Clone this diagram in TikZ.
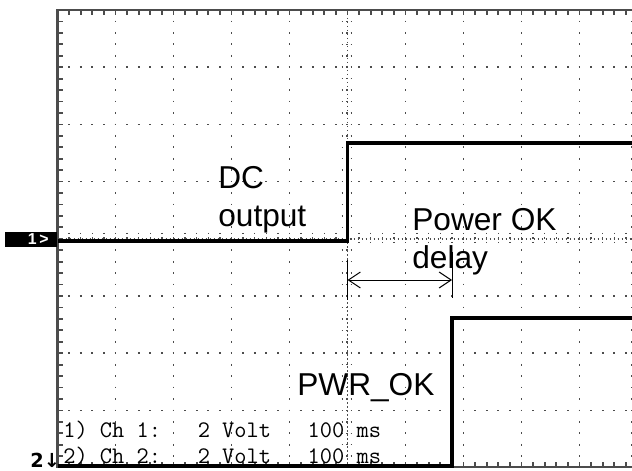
\documentclass[tikz,border=0pt]{standalone}
\usepackage{fontspec}
\setsansfont{Liberation Sans}
\newfontfamily\arrowfont{DejaVu Sans}
\usetikzlibrary{arrows.meta}

\begin{document}
\begin{tikzpicture}[x=0.2mm,y=-0.2mm,>={Straight Barb[length=2.4mm,width=3.2mm]},
 trace/.style={line width=0.7mm},
 scopeframe/.style={black!70,line width=0.45mm},
 gridv/.style={black!70,line width=0.35mm,dash pattern=on 0.35mm off 1.938mm,dash phase=0.175mm},
 gridh/.style={black!70,line width=0.35mm,dash pattern=on 0.35mm off 1.97mm,dash phase=0.175mm},
 fine/.style={black!70,line width=0.3mm,dash pattern=on 0.3mm off 0.5mm},
 crossdot/.style={black!70,line width=0.3mm,dash pattern=on 0.3mm off 0.6mm},
 tick/.style={black!70,line width=0.35mm},
 lbl/.style={font=\sffamily\fontsize{18}{21}\selectfont,inner sep=0pt,anchor=base west},
 mono/.style={font=\ttfamily\fontsize{13.5}{16}\selectfont,inner sep=0pt,anchor=base west},
 chmark/.style={fill=black,text=white,font=\sffamily\bfseries\fontsize{9}{9}\selectfont,
   minimum height=3mm,inner ysep=0pt,inner xsep=1.6mm,text width=7mm,align=right},
 dim/.style={<->,line width=0.2mm},
 ext/.style={line width=0.2mm}]
\useasboundingbox (0,0) rectangle (632,470);
\clip (0,0) rectangle (632,470);
% graticule
\foreach \k in {1,2,3,4,6,7,8,9}
  \draw[gridv] (57.5+58*\k,10) -- (57.5+58*\k,467);
\foreach \j in {1,2,3,5,6,7}
  \draw[gridh] (57.5,10+57.2*\j) -- (637.5,10+57.2*\j);
\draw[fine] (347.5,10) -- (347.5,467);
\draw[fine] (57.5,238.8) -- (637.5,238.8);
\foreach \i in {1,...,39}{
  \draw[crossdot] (341.5,10+11.44*\i) -- (353.5,10+11.44*\i);
  \draw[tick] (57.5,10+11.44*\i) -- +(5,0);
  \draw[tick] (637.5,10+11.44*\i) -- +(-7,0);
}
\foreach \i in {1,...,49}{
  \draw[crossdot] (57.5+11.6*\i,232.8) -- (57.5+11.6*\i,244.8);
  \draw[tick] (57.5+11.6*\i,10) -- +(0,5);
  \draw[tick] (57.5+11.6*\i,467) -- +(0,-5);
}
\draw[scopeframe] (57.5,10) rectangle (637.5,467);

% channel markers
\node[chmark] (m1) at (31,239.5) {1\,>};
\node[font=\arrowfont\bfseries\fontsize{11}{12}\selectfont,inner sep=0pt,anchor=base west] (m2) at (30,467) {2↓};

% readout
\node[mono] (ch1) at (63,437) {1)~Ch~1:~~~2~Volt~~~100~ms};
\node[mono] (ch2) at (63,463) {2)~Ch~2:~~~2~Volt~~~100~ms};

% traces
\coordinate (a0) at (57.5,241);
\coordinate (a1) at (347.5,241);
\coordinate (a2) at (347.5,143);
\coordinate (a3) at (640,143);
\draw[trace] (a0) -- (a1) -- (a2) -- (a3);
\coordinate (b0) at (57.5,466);
\coordinate (b1) at (452,466);
\coordinate (b2) at (452,318);
\coordinate (b3) at (640,318);
\draw[trace] (b0) -- (b1) -- (b2) -- (b3);

% labels
\node[lbl] (dc) at (218,188) {DC};
\node[lbl] (out) at (218,226) {output};
\node[lbl] (pok) at (412,230) {Power OK};
\node[lbl] (dly) at (412,268) {delay};
\node[lbl] (pwr) at (297,395) {PWR\_OK};

% delay arrow
\coordinate (e0) at (347.5,260);
\coordinate (e1) at (347.5,300);
\coordinate (f0) at (452,252);
\coordinate (f1) at (452,298);
\coordinate (d0) at (347.5,280);
\coordinate (d1) at (452,280);
\draw[ext] (e0) -- (e1);
\draw[ext] (f0) -- (f1);
\draw[dim] (d0) -- (d1);
\end{tikzpicture}
\end{document}
